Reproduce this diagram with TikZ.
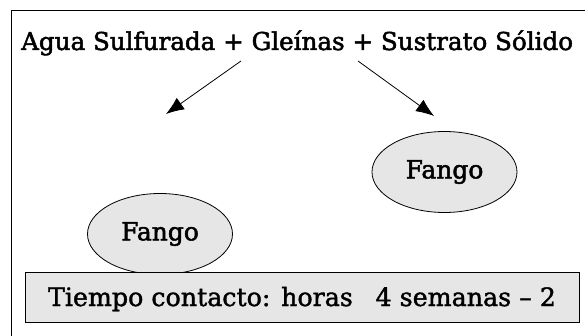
\documentclass[tikz,border=0pt]{standalone}
\usepackage{fontspec}
\setmainfont{DejaVu Serif}
\newfontfamily\heavyfont{DejaVu Serif}[FakeBold=2]
\newfontfamily\midfont{DejaVu Serif}[FakeBold=1.5]
\usetikzlibrary{arrows.meta,shapes.geometric}
\definecolor{fillgray}{HTML}{E6E6E6}
\begin{document}
\begin{tikzpicture}[x=1pt,y=-1pt,
  lbl/.style={inner sep=0pt,font=\heavyfont\fontsize{24.6}{28}\selectfont},
  blob/.style={ellipse,draw=black,fill=fillgray,line width=0.8pt,minimum width=145pt,minimum height=81pt,inner sep=0pt,font=\heavyfont\fontsize{25}{28}\selectfont},
  band/.style={rectangle,draw=black,fill=fillgray,line width=0.8pt,minimum width=554pt,minimum height=50pt,inner sep=0pt},
  arr/.style={-{Latex[length=18pt,width=14pt]},line width=0.8pt}]
\useasboundingbox (0,0) rectangle (585,336);
\fill[white] (0,0) rectangle (585,336);
\draw[line width=1pt] (11.5,340) -- (11.5,11) -- (590,11);
\node[lbl,anchor=base west] (title) at (21,50) {Agua Sulfurada + Gleínas + Sustrato Sólido};
\node[blob] (f1) at (444.5,172) {Fango};
\node[blob] (f2) at (160,234) {Fango};
\node[band] (t) at (302,297) {};
\node[inner sep=0pt,anchor=base,font=\midfont\fontsize{25.3}{30}\selectfont] (tt) at (302,306) {Tiempo contacto: horas\hspace{0.9em}4 semanas – 2};
\coordinate (s1) at (241,61);
\coordinate (e1) at (166,114);
\coordinate (s2) at (358,61);
\coordinate (e2) at (434,116);
\draw[arr] (s1) -- (e1);
\draw[arr] (s2) -- (e2);
\end{tikzpicture}
\end{document}
